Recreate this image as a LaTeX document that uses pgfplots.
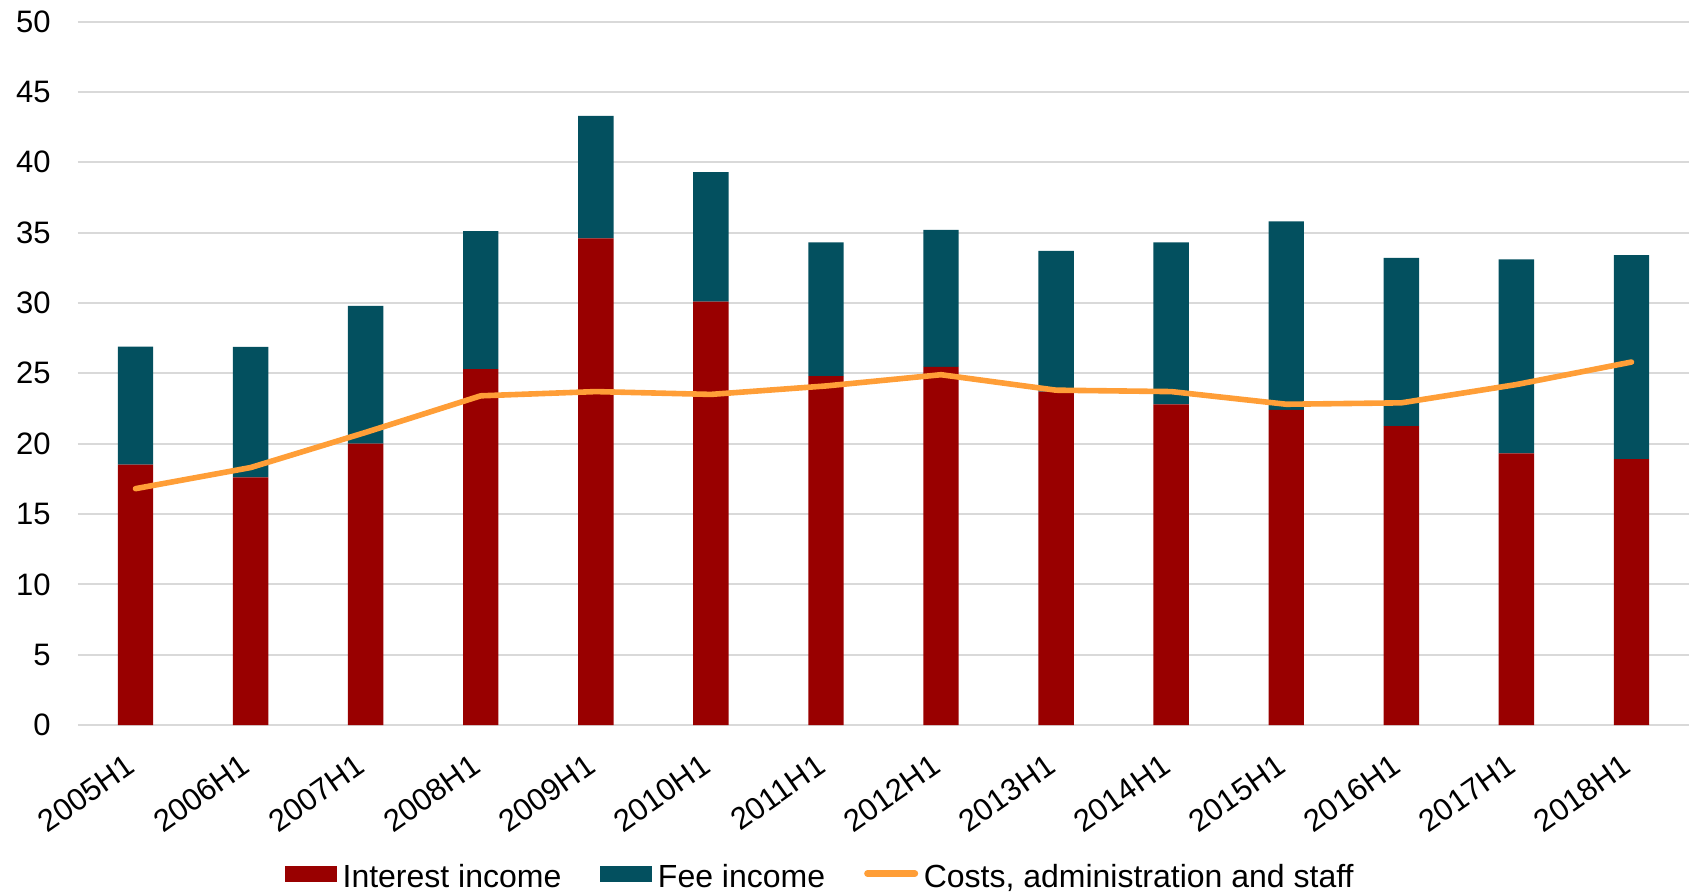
\documentclass[border=0pt]{standalone}
\usepackage{fontspec}
\setmainfont{Liberation Sans}
\usepackage{pgfplots}
\pgfplotsset{compat=1.18}
\usepackage{pgfplotstable}

\definecolor{ired}{HTML}{990000}
\definecolor{fteal}{HTML}{03505F}
\definecolor{corange}{HTML}{FF9E37}
\definecolor{gridgray}{HTML}{D9D9D9}

% Half-yearly income and costs
\pgfplotstableread{
idx label  interest fee   costs
0   2005H1 18.5     8.4   16.8
1   2006H1 17.6     9.27  18.3
2   2007H1 20.0     9.8   20.8
3   2008H1 25.3     9.8   23.4
4   2009H1 34.6     8.7   23.7
5   2010H1 30.1     9.2   23.5
6   2011H1 24.8     9.5   24.1
7   2012H1 25.45    9.75  24.9
8   2013H1 23.7     10.0  23.8
9   2014H1 22.8     11.5  23.7
10  2015H1 22.4     13.4  22.8
11  2016H1 21.25    11.95 22.9
12  2017H1 19.3     13.8  24.2
13  2018H1 18.9     14.5  25.8
}\datatable

\pgfplotsset{
  base/.style={
    scale only axis,
    width=805.5pt, height=351.7pt,
    at={(0pt,0pt)}, anchor=south west,
    xmin=-0.5, xmax=13.5,
    ymin=0, ymax=50,
  },
}

\begin{document}
\begin{tikzpicture}
\begin{axis}[
  base,
  ybar stacked,
  bar width=17.7pt,
  axis x line*=bottom,
  axis y line*=left,
  x axis line style={draw=gridgray, line width=1pt},
  y axis line style={draw=none},
  major tick length=0pt,
  ytick={0,5,...,50},
  ymajorgrids,
  grid style={draw=gridgray, line width=1pt},
  xtick=data,
  xticklabels from table={\datatable}{label},
  /pgf/number format/assume math mode=true,
  ticklabel style={font=\fontsize{15.5}{18}\selectfont, text=black},
  yticklabel style={inner sep=0pt, xshift=-13.5pt},
  xticklabel style={inner sep=0pt, xshift=-2.2pt, yshift=-18.5pt, rotate=35, anchor=east},
  legend columns=-1,
  legend style={
    at={(axis description cs:0.1285,-0.2145)}, anchor=west,
    draw=none, fill=none, inner sep=0pt, outer sep=0pt,
    font=\fontsize{16}{18}\selectfont,
    nodes={inner sep=0pt},
    /tikz/every odd column/.append style={column sep=2.8pt},
    /tikz/every even column/.append style={column sep=19.5pt},
  },
  legend cell align=left,
]
\addplot[fill=ired, draw=none,
  legend image code/.code={\path[draw=none, fill=none] (0pt,-2pt) rectangle (26pt,8pt);
    \fill[ired, draw=none] (0pt,-2.1pt) rectangle (26pt,5.9pt);}]
  table[x=idx, y=interest] {\datatable};
\addlegendentry{Interest income}
\addplot[fill=fteal, draw=none,
  legend image code/.code={\path[draw=none, fill=none] (0pt,-2pt) rectangle (26pt,8pt);
    \fill[fteal, draw=none] (0pt,-2.1pt) rectangle (26pt,5.9pt);}]
  table[x=idx, y=fee] {\datatable};
\addlegendentry{Fee income}
\addlegendimage{draw=none, fill=none,
  legend image code/.code={\path[draw=none, fill=none] (0pt,-2pt) rectangle (27pt,8pt);
    \draw[draw=corange, fill=none, line width=3.3pt, line cap=round] (1.65pt,1.9pt) -- (25.35pt,1.9pt);}}
\addlegendentry{Costs, administration and staff}
\end{axis}

\begin{axis}[base, hide axis]
\addplot[corange, line width=2.8pt, line cap=round, line join=round, mark=none]
  table[x=idx, y=costs] {\datatable};
\end{axis}

\pgfresetboundingbox
\useasboundingbox (-39pt,-83pt) rectangle (807pt,362.5pt);
\end{tikzpicture}
\end{document}
